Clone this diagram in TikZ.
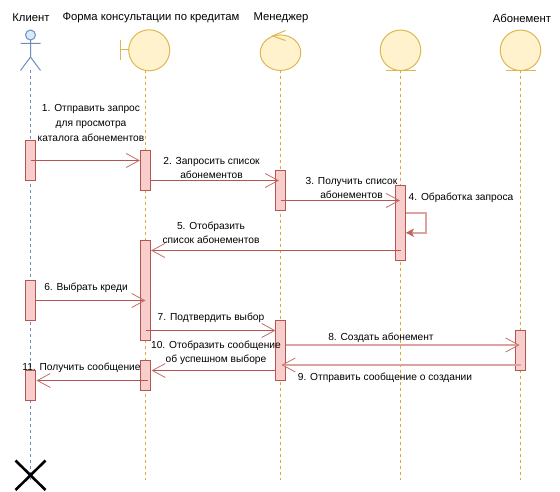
\documentclass[tikz,border=0pt]{standalone}
\usepackage{fontspec}
\setmainfont{Liberation Sans}
\usetikzlibrary{arrows.meta,shapes.geometric}
\definecolor{rd}{HTML}{B85450}
\definecolor{rf}{HTML}{F8CECC}
\definecolor{bd}{HTML}{6C8EBF}
\definecolor{bf}{HTML}{DAE8FC}
\definecolor{yd}{HTML}{DDB851}
\definecolor{yl}{HTML}{DDAA33}
\definecolor{yf}{HTML}{FFF2CC}
\definecolor{rl}{HTML}{DDA3A1}
\tikzset{
  x=1pt,y=-1pt,
  txt/.style={font=\fontsize{10.2}{14.6}\selectfont,align=center,inner sep=0pt,text=black},
  ttl/.style={font=\fontsize{11.3}{14}\selectfont,align=center,inner sep=0pt,text=black},
  life/.style={draw=yl,dash pattern=on 3pt off 3pt,line width=1pt},
  lifeb/.style={draw=bd,dash pattern=on 3pt off 3pt,line width=1pt},
  barbox/.style={draw=rd,fill=rf,line width=1pt,minimum width=10pt,inner sep=0pt,outer sep=0pt},
  head/.style={draw=yd,fill=yf,line width=1pt},
  msg/.style={draw=rd,line width=1pt,-{Straight Barb[length=13pt,width=14pt,line width=0.8pt,color=rd!85!white]}},
  msgl/.style={draw=rl,line width=1.7pt,-{Straight Barb[length=13pt,width=14pt,line width=0.8pt,color=rd!85!white]}},
}
\begin{document}
\begin{tikzpicture}
\useasboundingbox (0,0) rectangle (560,492);
% lifeline ends
\coordinate (l0a) at (30.5,70); \coordinate (l0b) at (30.5,480);
\coordinate (l1a) at (145.5,70); \coordinate (l1b) at (145.5,480);
\coordinate (l2a) at (280.5,70); \coordinate (l2b) at (280.5,480);
\coordinate (l3a) at (400.5,70); \coordinate (l3b) at (400.5,480);
\coordinate (l4a) at (520.5,70); \coordinate (l4b) at (520.5,480);
\draw[lifeb] (l0a) -- (l0b);
\draw[life] (l1a) -- (l1b);
\draw[life] (l2a) -- (l2b);
\draw[life] (l3a) -- (l3b);
\draw[life] (l4a) -- (l4b);
% actor
\draw[bd,line width=1pt] (30.5,40) -- (30.5,57) (20.5,43.5) -- (40.5,43.5) (20.5,70.5) -- (30.5,57) -- (40.5,70.5);
\node[draw=bd,fill=bf,line width=1pt,circle,minimum size=10pt,inner sep=0pt] (actor) at (30.5,35) {};
% boundary
\draw[yd,line width=1pt] (120.5,40) -- (120.5,60) (120.5,50) -- (128.5,50);
\node[head,circle,minimum size=41pt,inner sep=0pt] (form) at (149.2,50.3) {};
% control
\node[head,ellipse,minimum width=40.5pt,minimum height=35.5pt,inner sep=0pt] (mgr) at (280.5,52.7) {};
\draw[yd,line width=1pt] (285.5,30.5) -- (272.5,36) -- (285.5,40.5);
% entities
\node[head,circle,minimum size=40.5pt,inner sep=0pt] (ent) at (400.5,50.3) {};
\draw[yd,line width=1pt] (385.5,70.3) -- (415.5,70.3);
\node[head,circle,minimum size=40.5pt,inner sep=0pt] (abon) at (520.5,50.3) {};
\draw[yd,line width=1pt] (505.5,70.3) -- (535.5,70.3);
% bars
\node[barbox,minimum height=40pt] (c1) at (30.5,160.5) {};
\node[barbox,minimum height=40pt] (c2) at (30.5,300.5) {};
\node[barbox,minimum height=30pt] (c3) at (30.5,385.5) {};
\node[barbox,minimum height=40pt] (f1) at (145.5,170.5) {};
\node[barbox,minimum height=100pt] (f2) at (145.5,290.5) {};
\node[barbox,minimum height=30pt] (f3) at (145.5,375.5) {};
\node[barbox,minimum height=40pt] (m1) at (280.5,190.5) {};
\node[barbox,minimum height=60pt] (m2) at (280.5,350.5) {};
\node[barbox,minimum height=75pt] (e1) at (400.5,223) {};
\node[barbox,minimum height=40pt] (a1) at (520.5,350.5) {};
% message ends
\coordinate (a1s) at (30.5,160.5); \coordinate (a1e) at (140,160.5);
\coordinate (a2s) at (150.5,180.5); \coordinate (a2e) at (279,180.5);
\coordinate (a3s) at (280.5,200.5); \coordinate (a3e) at (400,200.5);
\coordinate (a4s) at (405.5,212.7); \coordinate (a4m) at (425.7,212.7);
\coordinate (a4n) at (425.7,232.7); \coordinate (a4e) at (406.5,232.7);
\coordinate (a5s) at (400.5,250.5); \coordinate (a5e) at (151,250.5);
\coordinate (a6s) at (35.5,300.5); \coordinate (a6e) at (145.5,300.5);
\coordinate (a7s) at (145.5,330.5); \coordinate (a7e) at (275.5,330.5);
\coordinate (a8s) at (285.5,345); \coordinate (a8e) at (519.5,345);
\coordinate (a9s) at (520.5,365); \coordinate (a9e) at (281.5,365);
\coordinate (a10s) at (275.5,370.5); \coordinate (a10e) at (151.5,370.5);
\coordinate (a11s) at (148,380.5); \coordinate (a11e) at (36.5,380.5);
\draw[msg] (a1s) -- (a1e);
\draw[msg] (a2s) -- (a2e);
\draw[msg] (a3s) -- (a3e);
\draw[draw=rl,line width=1.7pt] (a4s) -- (a4m) -- (a4n) -- (a4e);
\fill[rd!90!white] (406,232.7) -- (414,228.5) -- (412,232.7) -- (414,237) -- cycle;
\draw[msg] (a5s) -- (a5e);
\draw[msg] (a6s) -- (a6e);
\draw[msg] (a7s) -- (a7e);
\draw[msgl] (a8s) -- (a8e);
\draw[msgl] (a9s) -- (a9e);
\draw[msg] (a10s) -- (a10e);
\draw[msg] (a11s) -- (a11e);
% destroy
\coordinate (xa) at (15.5,460.5); \coordinate (xb) at (45.5,490);
\coordinate (xc) at (45.5,460.5); \coordinate (xd) at (15.5,490);
\draw[black,line width=2.6pt] (xa) -- (xb) (xc) -- (xd);
% titles
\node[ttl] (t0) at (31,18) {Клиент};
\node[ttl] (t1) at (151,18) {Форма консультации по кредитам};
\node[ttl] (t2) at (281,18) {Менеджер};
\node[ttl] (t4) at (522,18) {Абонемент};
% labels
\node[txt] (n1) at (91,123) {1. Отправить запрос\\для просмотра\\каталога абонементов};
\node[txt] (n2) at (211.5,168) {2. Запросить список\\абонементов};
\node[txt] (n3) at (351.5,188) {3. Получить список\\абонементов};
\node[txt] (n4) at (461,197.5) {4. Обработка запроса};
\node[txt] (n5) at (211,233) {5. Отобразить\\список абонементов};
\node[txt] (n6) at (86,287.5) {6. Выбрать креди};
\node[txt] (n7) at (211,317.5) {7. Подтвердить выбор};
\node[txt] (n8) at (381,337.5) {8. Создать абонемент};
\node[txt] (n9) at (385,377.5) {9. Отправить сообщение о создании};
\node[txt] (n10) at (216,353) {10. Отобразить сообщение\\об успешном выборе};
\node[txt] (n11) at (81.5,367.5) {11. Получить сообщение};
\end{tikzpicture}
\end{document}
